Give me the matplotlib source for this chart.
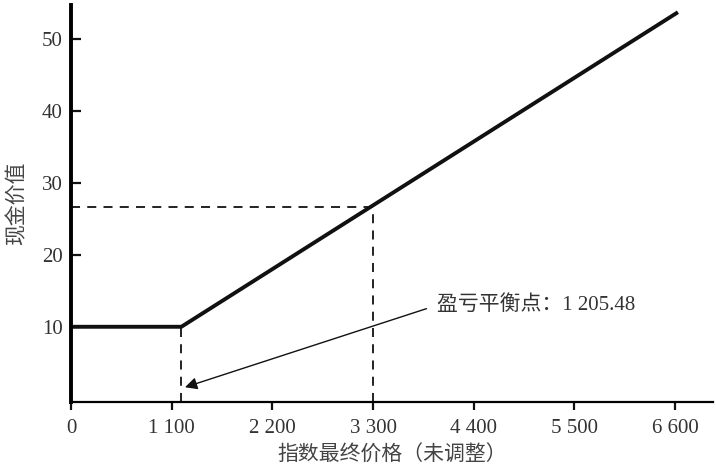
import matplotlib.pyplot as plt
import numpy as np

plt.rcParams['font.family'] = ['Liberation Serif', 'Noto Sans CJK SC', 'DejaVu Sans']

# payoff line: flat until breakeven, then linear
index_price = [0, 1205.48, 6630]
cash_value = [10, 10, 53.7]

breakeven = 1205.48
ref_price = 3300
ref_value = 26.6

x_ticks = [0, 1100, 2200, 3300, 4400, 5500, 6600]
x_tick_labels = ['0', '1 100', '2 200', '3 300', '4 400', '5 500', '6 600']
y_ticks = [10, 20, 30, 40, 50]

fig = plt.figure(figsize=(7.16, 4.69), dpi=100)
ax = fig.add_axes([71 / 716, 67 / 469, 642 / 716, 397 / 469])

ax.plot(index_price, cash_value, color='#111111', lw=2.8, solid_capstyle='butt')

# dashed guides
ax.plot([breakeven, breakeven], [-0.5, 10], color='#111111', lw=1.3, ls=(0, (5, 4)))
ax.plot([ref_price, ref_price], [-0.5, ref_value], color='#111111', lw=1.3, ls=(0, (5, 4)))
ax.plot([0, ref_price], [ref_value, ref_value], color='#111111', lw=1.3, ls=(0, (5, 4)))

ax.annotate('盈亏平衡点：1 205.48', xy=(1245, 1.6), xytext=(4000, 13.0),
            fontsize=15, color='#333333', va='center', ha='left',
            arrowprops=dict(arrowstyle='-|>', color='#111111', lw=1.0,
                            mutation_scale=18, shrinkA=6, shrinkB=0,
                            relpos=(0, 0.5)))

ax.set_xlim(0, 7013)
ax.set_ylim(-0.45, 54.7)
ax.set_xticks(x_ticks)
ax.set_xticklabels(x_tick_labels)
ax.set_yticks(y_ticks)

for side in ['top', 'right']:
    ax.spines[side].set_visible(False)
ax.spines['left'].set_linewidth(2.8)
ax.spines['bottom'].set_linewidth(1.6)
ax.tick_params(axis='x', direction='out', length=6, width=1.6,
               labelsize=15, labelcolor='#333333', color='#111111', pad=6)
ax.tick_params(axis='y', direction='in', length=7, width=1.6,
               labelsize=15, labelcolor='#333333', color='#111111', pad=6)

ax.set_xlabel('指数最终价格（未调整）', fontsize=15, color='#444444', labelpad=6)
ax.set_ylabel('现金价值', fontsize=15, color='#444444', labelpad=10)

plt.savefig('out.png', dpi=100)
